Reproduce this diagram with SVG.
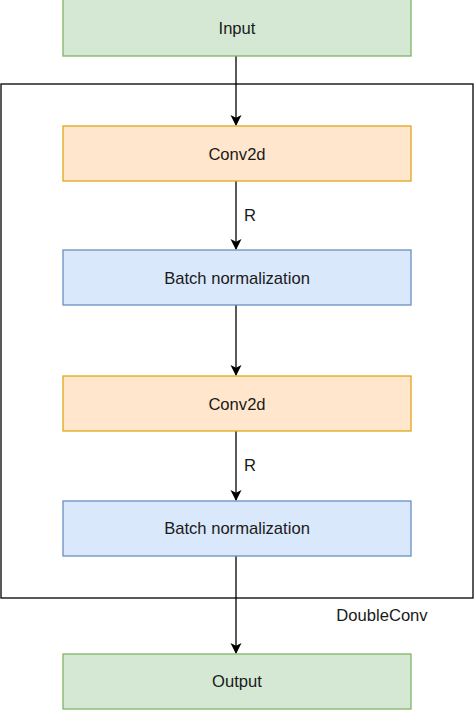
<svg xmlns="http://www.w3.org/2000/svg" width="474" height="710" viewBox="0 0 474 710">
<defs>
<style>
text{font-family:"Liberation Sans",Arial,sans-serif;font-size:16.6px;fill:#1a1a1a;}
.c{text-anchor:middle;dominant-baseline:central;}
.green{fill:#d5e8d4;stroke:#82b366;stroke-width:1.3;}
.orange2{fill:#ffe6cc;stroke:#e0a81a;stroke-width:1.3;}
.blue{fill:#dae8fc;stroke:#6c8ebf;stroke-width:1.3;}
.edge{stroke:#000;stroke-width:1.3;fill:none;marker-end:url(#arr);}
</style>
<marker id="arr" markerWidth="12" markerHeight="12" refX="10" refY="5.5" orient="auto" markerUnits="userSpaceOnUse">
<path d="M0,0 L11,5.5 L0,11 L2.8,5.5 Z" fill="#000"/>
</marker>
</defs>
<rect x="0" y="0" width="474" height="710" fill="#fff"/>
<g id="container">
<rect x="1" y="84" width="472" height="514" fill="none" stroke="#000" stroke-width="1.3"/>
<text x="382" y="615" class="c">DoubleConv</text>
</g>
<g id="connectors">
<line x1="236" y1="56" x2="236" y2="125" class="edge"/>
<line x1="236" y1="181" x2="236" y2="249" class="edge"/>
<text x="250" y="215" class="c">R</text>
<line x1="236" y1="305" x2="236" y2="375" class="edge"/>
<line x1="236" y1="431" x2="236" y2="500" class="edge"/>
<text x="250" y="465" class="c">R</text>
<line x1="236" y1="556" x2="236" y2="653" class="edge"/>
</g>
<g id="input">
<rect x="63" y="-1" width="348" height="57" class="green"/>
<text x="237" y="28" class="c">Input</text>
</g>
<g id="conv1">
<rect x="63" y="126" width="348" height="55" class="orange2"/>
<text x="237" y="154" class="c">Conv2d</text>
</g>
<g id="bn1">
<rect x="63" y="250" width="348" height="55" class="blue"/>
<text x="237" y="278" class="c">Batch normalization</text>
</g>
<g id="conv2">
<rect x="63" y="376" width="348" height="55" class="orange2"/>
<text x="237" y="404" class="c">Conv2d</text>
</g>
<g id="bn2">
<rect x="63" y="501" width="348" height="55" class="blue"/>
<text x="237" y="528" class="c">Batch normalization</text>
</g>
<g id="output">
<rect x="63" y="654" width="348" height="55" class="green"/>
<text x="237" y="681" class="c">Output</text>
</g>
</svg>
